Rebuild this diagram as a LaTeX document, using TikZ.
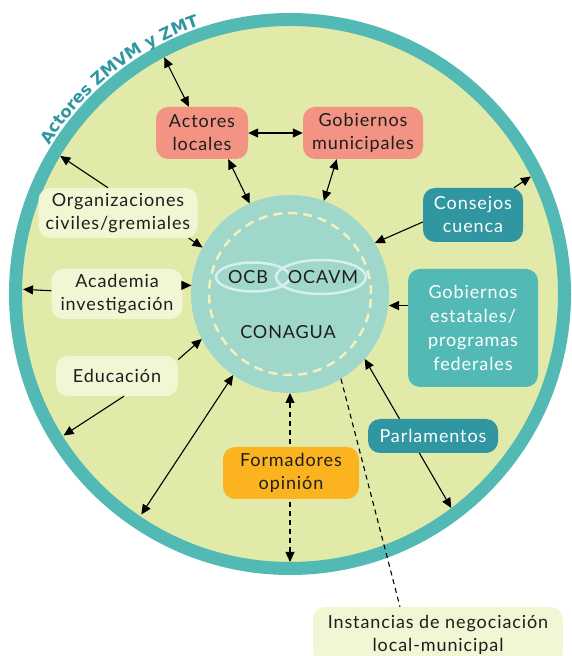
\documentclass[tikz,border=0pt]{standalone}
\usepackage{fontspec}
\setmainfont{Lato}[LetterSpace=5]
\newfontfamily\titlefont{DejaVu Sans}
\usepackage{xcolor}
\usepackage{tikz}
\usetikzlibrary{arrows.meta,calc,decorations.text,shapes.geometric}
\definecolor{ringteal}{HTML}{52B9B5}
\definecolor{fieldgreen}{HTML}{E1EAA8}
\definecolor{coremint}{HTML}{9FD7CB}
\definecolor{dashcream}{HTML}{F3F0BF}
\definecolor{ovalblue}{HTML}{D7EFEE}
\definecolor{salmonred}{HTML}{F29383}
\definecolor{deepteal}{HTML}{2F96A2}
\definecolor{amber}{HTML}{FBB420}
\definecolor{paleleaf}{HTML}{F3F6D4}
\definecolor{inkgray}{HTML}{1E1E1E}

\begin{document}
\begin{tikzpicture}[x=1pt,y=1pt,
  box/.style={rounded corners=12pt, inner sep=0pt, align=center, font=\fontsize{18}{23}\selectfont, text=inkgray},
  redbox/.style={box, fill=salmonred},
  darkbox/.style={box, fill=deepteal, text=white},
  tealbox/.style={box, fill=ringteal, text=white},
  orangebox/.style={box, fill=amber},
  palebox/.style={box, fill=paleleaf},
  oval/.style={ellipse, draw=ovalblue, line width=2.5pt, inner sep=0pt},
  coretext/.style={font=\fontsize{18}{18}\selectfont, text=inkgray, inner sep=0pt},
  arr/.style={-{Triangle[length=10pt,width=9pt]}, line width=1.1pt},
  darr/.style={{Triangle[length=10pt,width=9pt]}-{Triangle[length=10pt,width=9pt]}, line width=1.1pt},
  dashline/.style={dash pattern=on 5pt off 4pt, line width=1.1pt}]
\useasboundingbox (0,0) rectangle (572,656);
\clip (0,0) rectangle (572,656);
\coordinate (c) at (290,362);
\fill[fieldgreen] (c) circle[radius=274];
\draw[ringteal, line width=13pt] (c) circle[radius=274.5];
\path[decorate, decoration={text along path, text align=center,
  text={|\titlefont\bfseries\fontsize{16.5}{17}\selectfont\color{deepteal}|Actores ZMVM y ZMT}}]
  ($(c)+(153:283)$) arc[start angle=153, end angle=104, radius=283];

\node[circle, fill=coremint, minimum size=198pt, inner sep=0pt, outer sep=0pt] (cona) at (c) {};
\draw[dashcream, line width=2.5pt, dash pattern=on 9pt off 6pt] (c) circle[radius=81];
\node[oval, minimum width=74pt, minimum height=29pt] (ocbring) at (253,379) {};
\node[oval, minimum width=90pt, minimum height=34pt] (ocavmring) at (321,379) {};
\node[coretext] (ocb) at (248,379) {OCB};
\node[coretext] (ocavm) at (323,379) {OCAVM};
\node[coretext] (conatext) at (288,324) {CONAGUA};

\coordinate (rparl) at ($(c)+(-53:268)$);
\coordinate (rbot) at ($(c)+(-90:268)$);
\draw[darr] (cona.-41) -- (rparl);
\draw[darr, dashline] (cona.south) -- (rbot);

\node[redbox, minimum width=92pt, minimum height=52pt] (actloc) at (202,523) {Actores\\locales};
\node[redbox, minimum width=120pt, minimum height=52pt] (gobmun) at (363,523) {Gobiernos\\municipales};
\node[darkbox, minimum width=100pt, minimum height=54pt] (consejos) at (473,441) {Consejos\\cuenca};
\node[tealbox, minimum width=130pt, minimum height=118pt, font=\fontsize{18}{24}\selectfont] (gobest) at (473,328) {Gobiernos\\estatales/\\programas\\federales};
\node[darkbox, minimum width=130pt, minimum height=34pt] (parl) at (433,220) {Parlamentos};
\node[orangebox, minimum width=136pt, minimum height=52pt] (formad) at (291,183) {Formadores\\opinión};
\node[palebox, minimum width=250pt, minimum height=56pt] (instan) at (438,21) {Instancias de negociación\\local-municipal};
\node[palebox, minimum width=159pt, minimum height=50pt] (orgciv) at (118,443) {Organizaciones\\civiles/gremiales};
\node[palebox, minimum width=131pt, minimum height=50pt] (academia) at (117,362) {Academia\\investigación};
\node[palebox, minimum width=122pt, minimum height=40pt] (educ) at (117,280) {Educación};

\coordinate (ractor) at ($(c)+(118:268)$);
\coordinate (rcons) at ($(c)+(26:268)$);
\coordinate (rorg) at ($(c)+(149:268)$);
\coordinate (racad) at ($(c)+(179:267)$);
\coordinate (reduc) at ($(c)+(212:267)$);
\coordinate (rlong) at ($(c)+(236:266)$);

\draw[darr] (ractor) -- (actloc);
\draw[darr] (actloc) -- (gobmun);
\draw[darr] (actloc.-45) -- (cona.114);
\draw[darr] (gobmun.-135) -- (cona.70);
\draw[arr] (consejos) -- (rcons);
\draw[arr] ([yshift=-7pt]consejos.west) -- (cona.31);
\draw[arr] (gobest.161) -- (gobest.161 -| cona.east);
\draw[arr] ([xshift=-10pt]orgciv.north) -- (rorg);
\draw[arr] ([xshift=-9pt]orgciv.south east) -- (cona.152);
\draw[arr] (academia) -- (racad);
\draw[arr] (cona.175 -| academia.east) -- (cona.175);
\draw[arr] (educ.15) -- (cona.207);
\draw[arr] ([xshift=7pt]educ.south) -- (reduc);
\draw[darr] (cona.235) -- (rlong);
\draw[dashline] (cona.-59) -- ([xshift=-38pt]instan.north);
\end{tikzpicture}
\end{document}
